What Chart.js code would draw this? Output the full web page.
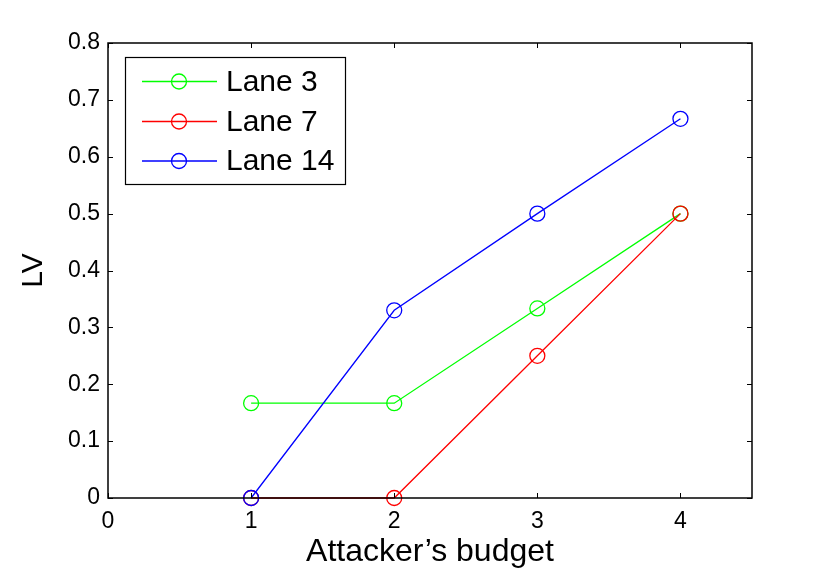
<!DOCTYPE html>
<html>
<head>
<meta charset="utf-8">
<script src="https://cdn.jsdelivr.net/npm/chart.js@4/dist/chart.umd.min.js"></script>
<style>
html,body{margin:0;padding:0;background:#fff;}
#wrap{width:830px;height:573px;position:relative;}
</style>
</head>
<body>
<div id="wrap"><canvas id="c" width="830" height="573"></canvas></div>
<script>
// ---- data ----
const budgets = [1, 2, 3, 4];
const lane3 = [0.1667, 0.1667, 0.3333, 0.5];
const lane7 = [0, 0, 0.25, 0.5];
const lane14 = [0, 0.33, 0.5, 0.6667];
const seriesNames = ['Lane 3', 'Lane 7', 'Lane 14'];
const seriesColors = ['#00ff00', '#ff0000', '#0000ff'];
const xTickLabels = ['0', '1', '2', '3', '4'];
const yTickLabels = ['0', '0.1', '0.2', '0.3', '0.4', '0.5', '0.6', '0.7', '0.8'];
const xTitle = 'Attacker\u2019s budget';
const yTitle = 'LV';

const FONT = "'Liberation Sans', Arial, Helvetica, sans-serif";

function pts(vals) { return budgets.map((b, i) => ({x: b, y: vals[i]})); }
const allSeries = [lane3, lane7, lane14];

const datasets = allSeries.map((vals, i) => ({
  label: seriesNames[i],
  data: pts(vals),
  borderColor: seriesColors[i],
  backgroundColor: 'rgba(0,0,0,0)',
  borderWidth: 1.3,
  pointStyle: 'circle',
  pointRadius: 7.5,
  pointHoverRadius: 7.5,
  pointBorderWidth: 1.3,
  pointBorderColor: seriesColors[i],
  pointBackgroundColor: 'rgba(0,0,0,0)',
  tension: 0,
  clip: false,
  order: 2 - i
}));

const boxPlugin = {
  id: 'matlabBox',
  afterDatasetsDraw(chart) {
    const {ctx, chartArea: a, scales: {x, y}} = chart;
    ctx.save();
    ctx.strokeStyle = '#000';
    ctx.lineWidth = 1.5;
    ctx.strokeRect(a.left, a.top, a.right - a.left, a.bottom - a.top);
    ctx.lineWidth = 1;
    const tl = 5;
    ctx.beginPath();
    x.ticks.forEach(t => {
      const px = Math.round(x.getPixelForValue(t.value)) + 0.5;
      ctx.moveTo(px, a.bottom); ctx.lineTo(px, a.bottom - tl);
      ctx.moveTo(px, a.top); ctx.lineTo(px, a.top + tl);
    });
    y.ticks.forEach(t => {
      const py = Math.round(y.getPixelForValue(t.value)) + 0.5;
      ctx.moveTo(a.left, py); ctx.lineTo(a.left + tl, py);
      ctx.moveTo(a.right, py); ctx.lineTo(a.right - tl, py);
    });
    ctx.stroke();
    ctx.restore();
  },
  afterDraw(chart) {
    // legend box inside axes (top-left)
    const {ctx} = chart;
    const bx = 125.5, by = 57.5, bw = 220, bh = 127;
    ctx.save();
    ctx.fillStyle = '#fff';
    ctx.fillRect(bx, by, bw, bh);
    ctx.strokeStyle = '#000';
    ctx.lineWidth = 1.2;
    ctx.strokeRect(bx, by, bw, bh);
    const rows = [81.5, 121.5, 161];
    chart.data.datasets.forEach((ds, i) => {
      const yy = rows[i];
      ctx.strokeStyle = ds.borderColor;
      ctx.lineWidth = 1.3;
      ctx.beginPath();
      ctx.moveTo(142, yy); ctx.lineTo(217, yy);
      ctx.stroke();
      ctx.beginPath();
      ctx.arc(179, yy, 7.5, 0, Math.PI * 2);
      ctx.stroke();
      ctx.fillStyle = '#000';
      ctx.font = '30px ' + FONT;
      ctx.textBaseline = 'middle';
      ctx.textAlign = 'left';
      ctx.fillText(ds.label, 226, yy + 1);
    });
    ctx.restore();
  }
};

new Chart(document.getElementById('c'), {
  type: 'line',
  data: {datasets},
  options: {
    responsive: false,
    animation: false,
    events: [],
    layout: {padding: {left: 0, right: 78, top: 43, bottom: 0}},
    plugins: {legend: {display: false}, tooltip: {enabled: false}},
    scales: {
      x: {
        type: 'linear',
        min: 0, max: 4.5,
        grid: {display: false, drawTicks: false},
        border: {display: false},
        ticks: {
          stepSize: 1,
          includeBounds: false,
          padding: 10,
          color: '#000',
          font: {family: FONT, size: 23},
          maxRotation: 0,
          callback: (v) => { const i = xTickLabels.indexOf(String(v)); return i >= 0 ? xTickLabels[i] : ''; }
        },
        title: {display: true, text: xTitle, color: '#000', font: {family: FONT, size: 32}, padding: {top: 0, bottom: 2}},
        afterFit: (s) => { s.height = 75; }
      },
      y: {
        type: 'linear',
        min: 0, max: 0.8,
        grid: {display: false, drawTicks: false},
        border: {display: false},
        ticks: {
          stepSize: 0.1,
          padding: 8,
          color: '#000',
          font: {family: FONT, size: 23},
          callback: (v, idx) => yTickLabels[idx]
        },
        title: {display: true, text: yTitle, color: '#000', font: {family: FONT, size: 30}, padding: {top: 16, bottom: 0}},
        afterFit: (s) => { s.width = 108; }
      }
    }
  },
  plugins: [boxPlugin]
});
</script>
</body>
</html>
